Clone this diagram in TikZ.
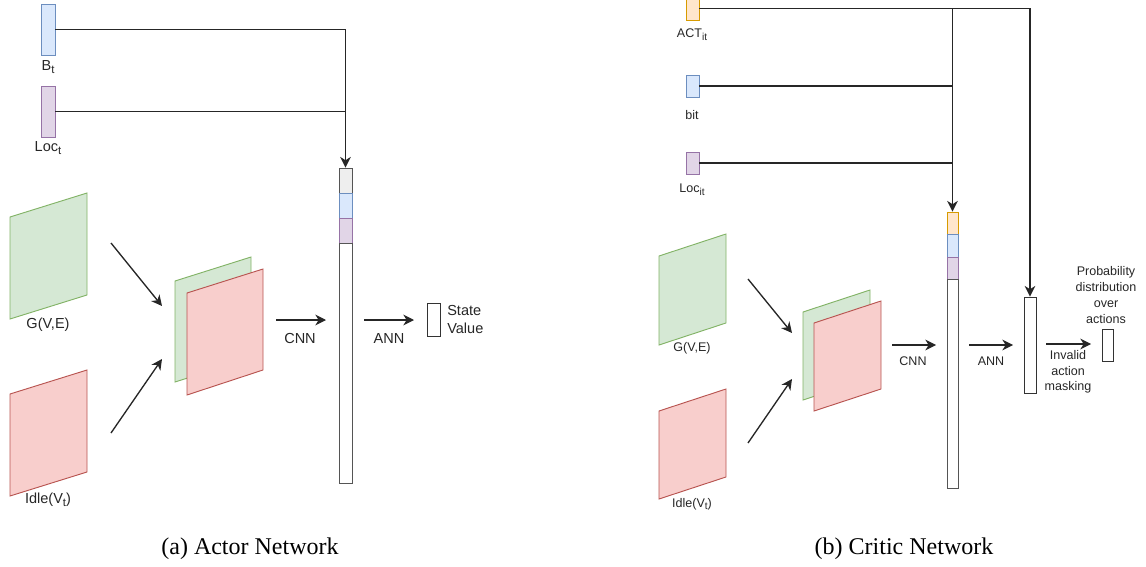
\documentclass[tikz,border=0pt]{standalone}
\usepackage{fontspec}
\setmainfont{Liberation Sans}
\newfontfamily\capfont{Liberation Serif}
\usetikzlibrary{arrows.meta}

\definecolor{blueF}{HTML}{DAE8FC}
\definecolor{blueD}{HTML}{6C8EBF}
\definecolor{purF}{HTML}{E1D5E7}
\definecolor{purD}{HTML}{9673A6}
\definecolor{orF}{HTML}{FFE6CC}
\definecolor{orD}{HTML}{D79B00}
\definecolor{greyF}{HTML}{EEEEEE}
\definecolor{greyD}{HTML}{555555}
\definecolor{grnF}{HTML}{D5E8D4}
\definecolor{grnD}{HTML}{82B366}
\definecolor{redF}{HTML}{F8CECC}
\definecolor{redD}{HTML}{B85450}

\newcommand{\upx}{0.75pt}
\newcommand{\lowidx}[2]{\raisebox{-0.45ex}{\fontsize{#1}{#1}\selectfont #2}}

\begin{document}
\begin{tikzpicture}[
	x=0.75pt, y=-0.75pt,
	bar/.style={ draw, inner sep=0pt, line width=0.65pt, minimum width=13*\upx },
	segw/.style={ bar, fill=white, draw=greyD },
	gplane/.style={ draw=grnD, fill=grnF, line width=0.7pt },
	rplane/.style={ draw=redD, fill=redF, line width=0.7pt },
	arr/.style={ line width=1pt, black!85, -{Stealth[length=8pt,width=8pt,inset=2.5pt]} },
	wire/.style={ line width=1pt, black!85 },
	lblA/.style={ inner sep=0pt, text=black!85, font=\fontsize{10.9}{13.5}\selectfont, align=center },
	lblB/.style={ inner sep=0pt, text=black!85, font=\fontsize{9.4}{11.8}\selectfont, align=center },
	capt/.style={ inner sep=0pt, font=\capfont\fontsize{18}{21}\selectfont }
]
\useasboundingbox (0,0) rectangle (1146,567);

% (a) actor network
\node at (48,29.5) (bt) [bar,fill=blueF,draw=blueD,minimum width=14*\upx,minimum height=51*\upx] {};
\node at (48,67) (btl) [lblA] {B\lowidx{8.6}{t}};

\node at (48,111.5) (loct) [bar,fill=purF,draw=purD,minimum width=14*\upx,minimum height=51*\upx] {};
\node at (48,148) (loctl) [lblA] {Loc\lowidx{8.6}{t}};

\node at (345.5,180.5) (vg) [bar,fill=greyF,draw=greyD,minimum height=25*\upx] {};
\node at (345.5,205.5) (vb) [bar,fill=blueF,draw=blueD,minimum height=25*\upx] {};
\node at (345.5,230.5) (vp) [bar,fill=purF,draw=purD,minimum height=25*\upx] {};
\node at (345.5,363) (vw) [segw,minimum height=240*\upx] {};

\draw[arr] (bt.east) -| (vg.north);
\draw[wire] (loct.east) -- (loct.east -| vg.north);

\draw[gplane] (10,217) -- (87,193) -- (87,295) -- (10,319) -- cycle;
\node at (48,325) (gl) [lblA] {G(V,E)};
\draw[rplane] (10,394) -- (87,370) -- (87,472) -- (10,496) -- cycle;
\node at (48,500) (il) [lblA] {Idle(V\lowidx{8.6}{t})};

\draw[gplane] (175,281) -- (251,257) -- (251,358) -- (175,382) -- cycle;
\draw[rplane] (187,293) -- (263,269) -- (263,370) -- (187,395) -- cycle;

\coordinate (a1s) at (111,243);
\coordinate (a1e) at (162,306);
\coordinate (a2s) at (111,433);
\coordinate (a2e) at (162,359);
\foreach \s/\e in {a1s/a1e,a2s/a2e} \draw[arr] (\s) -- (\e);

\coordinate (cnnA) at (276,320);
\coordinate (cnnB) at (326,320);
\draw[arr] (cnnA) -- (cnnB);
\node at (300,338) (cnnl) [lblA] {CNN};

\coordinate (annA) at (364,320);
\coordinate (annB) at (414,320);
\draw[arr] (annA) -- (annB);
\node at (389,338) (annl) [lblA] {ANN};

\node at (433.5,319.5) (sv) [bar,fill=white,draw=black!80,minimum width=13*\upx,minimum height=33*\upx] {};
\node at (447,319.5) (svl) [lblA,anchor=west,align=left] {State\\Value};

\node at (250,549) (capa) [capt] {(a) Actor Network};

% (b) critic network
\node at (692.5,8.5) (act) [bar,fill=orF,draw=orD,minimum height=23*\upx] {};
\node at (692,35) (actl) [lblB] {ACT\lowidx{7.6}{it}};

\node at (692.5,86) (bit) [bar,fill=blueF,draw=blueD,minimum height=22*\upx] {};
\node at (692,115) (bitl) [lblB] {bit};

\node at (692.5,163) (locit) [bar,fill=purF,draw=purD,minimum height=22*\upx] {};
\node at (692,190) (locitl) [lblB] {Loc\lowidx{7.6}{it}};

\node at (952.5,223) (vo) [bar,fill=orF,draw=orD,minimum width=11*\upx,minimum height=22*\upx] {};
\node at (952.5,245.5) (vbb) [bar,fill=blueF,draw=blueD,minimum width=11*\upx,minimum height=23*\upx] {};
\node at (952.5,268) (vpp) [bar,fill=purF,draw=purD,minimum width=11*\upx,minimum height=22*\upx] {};
\node at (952.5,383.5) (vww) [segw,minimum width=11*\upx,minimum height=209*\upx] {};

\node at (1030,345) (outb) [bar,fill=white,draw=black!80,minimum width=12*\upx,minimum height=96*\upx] {};
\node at (1107.5,345) (prob) [bar,fill=white,draw=black!80,minimum width=11*\upx,minimum height=32*\upx] {};

\draw[arr] (act.east) -| (outb.north);
\draw[arr] (act.east -| vo.north) -- (vo.north);
\foreach \p in {bit,locit} \draw[wire] (\p.east) -- (\p.east -| vo.north);

\draw[gplane] (659,256) -- (726,234) -- (726,323) -- (659,345) -- cycle;
\node at (692,348) (gl2) [lblB] {G(V,E)};
\draw[rplane] (659,411) -- (726,389) -- (726,477) -- (659,499) -- cycle;
\node at (692,504) (il2) [lblB] {Idle(V\lowidx{7.6}{t})};

\draw[gplane] (803,312) -- (870,290) -- (870,378) -- (803,400) -- cycle;
\draw[rplane] (814,323) -- (881,301) -- (881,389) -- (814,411) -- cycle;

\coordinate (b1s) at (748,279);
\coordinate (b1e) at (792,333);
\coordinate (b2s) at (748,443);
\coordinate (b2e) at (792,379);
\foreach \s/\e in {b1s/b1e,b2s/b2e} \draw[arr] (\s) -- (\e);

\coordinate (cnnC) at (892,345);
\coordinate (cnnD) at (936,345);
\draw[arr] (cnnC) -- (cnnD);
\node at (913,361) (cnnl2) [lblB] {CNN};

\coordinate (annC) at (969,345);
\coordinate (annD) at (1013,345);
\draw[arr] (annC) -- (annD);
\node at (991,361) (annl2) [lblB] {ANN};

\coordinate (mskA) at (1046,344);
\coordinate (mskB) at (1091,344);
\draw[arr] (mskA) -- (mskB);
\node at (1068,372) (mskl) [lblB] {Invalid\\action\\masking};
\node at (1106,295) (probl) [lblB] {Probability\\distribution\\over\\actions};

\node at (904,549) (capb) [capt] {(b) Critic Network};

\end{tikzpicture}
\end{document}
